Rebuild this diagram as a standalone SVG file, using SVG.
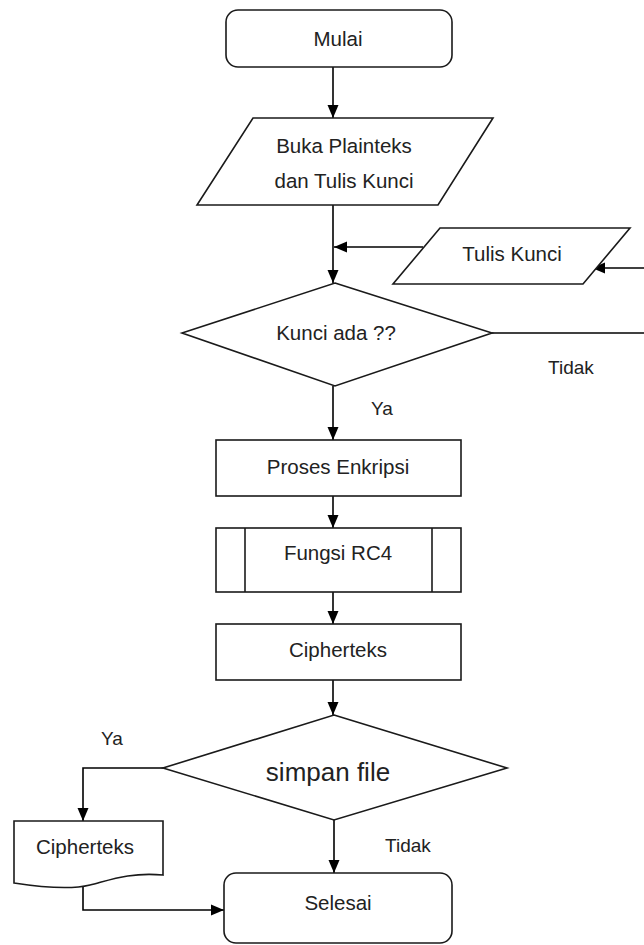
<svg xmlns="http://www.w3.org/2000/svg" width="644" height="945" viewBox="0 0 644 945">
  <style>
    .shape { fill: #ffffff; stroke: #1a1a1a; stroke-width: 1.6; }
    .line { fill: none; stroke: #000000; stroke-width: 1.6; }
    .txt { font-family: "Liberation Sans", Arial, sans-serif; font-size: 20.5px; fill: #222222; text-anchor: middle; dominant-baseline: central; }
    .lbl { font-family: "Liberation Sans", Arial, sans-serif; font-size: 19px; fill: #222222; text-anchor: middle; dominant-baseline: central; }
    .big { font-size: 26px; }
  </style>
  <defs>
    <marker id="arrow" markerUnits="userSpaceOnUse" markerWidth="14" markerHeight="14" viewBox="0 0 14 14" refX="13" refY="7" orient="auto">
      <path d="M0,1.5 L13,7 L0,12.5 Z" fill="#000000"/>
    </marker>
  </defs>

  <!-- connectors -->
  <g id="connectors">
    <line class="line" x1="333" y1="67" x2="333" y2="118" marker-end="url(#arrow)"/>
    <line class="line" x1="333" y1="205" x2="333" y2="283" marker-end="url(#arrow)"/>
    <line class="line" x1="423" y1="247" x2="334" y2="247" marker-end="url(#arrow)"/>
    <line class="line" x1="644" y1="268" x2="592" y2="268" marker-end="url(#arrow)"/>
    <line class="line" x1="492" y1="333" x2="644" y2="333"/>
    <line class="line" x1="333" y1="386" x2="333" y2="440" marker-end="url(#arrow)"/>
    <line class="line" x1="333" y1="496" x2="333" y2="528" marker-end="url(#arrow)"/>
    <line class="line" x1="333" y1="592" x2="333" y2="624" marker-end="url(#arrow)"/>
    <line class="line" x1="333" y1="680" x2="333" y2="715" marker-end="url(#arrow)"/>
    <line class="line" x1="334" y1="820" x2="334" y2="873" marker-end="url(#arrow)"/>
    <polyline class="line" points="163,768 83,768 83,821" marker-end="url(#arrow)"/>
    <polyline class="line" points="83,887 83,910 224,910" marker-end="url(#arrow)"/>
    <text class="lbl" x="571" y="367">Tidak</text>
    <text class="lbl" x="382" y="408">Ya</text>
    <text class="lbl" x="112" y="738">Ya</text>
    <text class="lbl" x="408" y="845">Tidak</text>
  </g>

  <g id="mulai">
    <rect class="shape" x="226" y="10" width="226" height="57" rx="12"/>
    <text class="txt" x="338" y="38">Mulai</text>
  </g>

  <g id="buka-plainteks">
    <polygon class="shape" points="253,118 493,118 438,205 197,205"/>
    <text class="txt" x="344" y="145">Buka Plainteks</text>
    <text class="txt" x="344" y="180">dan Tulis Kunci</text>
  </g>

  <g id="tulis-kunci">
    <polygon class="shape" points="440,228 630,228 583,284 393,284"/>
    <text class="txt" x="512" y="253">Tulis Kunci</text>
  </g>

  <g id="kunci-ada">
    <polygon class="shape" points="335,283 492,333 335,386 182,333"/>
    <text class="txt" x="336" y="332">Kunci ada ??</text>
  </g>

  <g id="proses-enkripsi">
    <rect class="shape" x="216" y="440" width="245" height="56"/>
    <text class="txt" x="338" y="466">Proses Enkripsi</text>
  </g>

  <g id="fungsi-rc4">
    <rect class="shape" x="216" y="528" width="245" height="64"/>
    <line class="shape" x1="245" y1="528" x2="245" y2="592"/>
    <line class="shape" x1="432" y1="528" x2="432" y2="592"/>
    <text class="txt" x="338" y="552">Fungsi RC4</text>
  </g>

  <g id="cipherteks">
    <rect class="shape" x="216" y="624" width="245" height="56"/>
    <text class="txt" x="338" y="649">Cipherteks</text>
  </g>

  <g id="simpan-file">
    <polygon class="shape" points="334,715 507,768 334,820 163,768"/>
    <text class="txt big" x="328" y="772">simpan file</text>
  </g>

  <g id="cipherteks-file">
    <path class="shape" d="M14,821 L163,821 L163,875 C130,872 110,880 90,885 C70,890 40,887 14,883 Z"/>
    <text class="txt" x="85" y="846">Cipherteks</text>
  </g>

  <g id="selesai">
    <rect class="shape" x="224" y="873" width="228" height="70" rx="12"/>
    <text class="txt" x="338" y="902">Selesai</text>
  </g>
</svg>
